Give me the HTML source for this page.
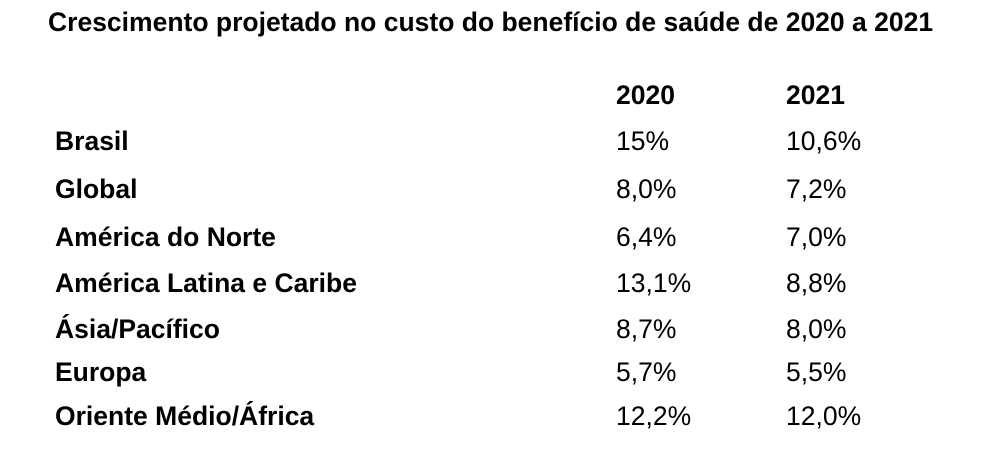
<!DOCTYPE html>
<html><head><meta charset="utf-8"><style>
body{margin:0;width:982px;height:454px;background:#fff;font-family:"Liberation Sans",Arial,sans-serif;color:#000;position:relative;overflow:hidden}
.t{position:absolute;white-space:nowrap;font-size:26.5px;line-height:1}
.b{font-weight:bold}
</style></head><body>
<div class="t b" style="left:48px;top:9px;font-size:26.5px">Crescimento projetado no custo do benefício de saúde de 2020 a 2021</div>
<div class="t b" style="left:616px;top:82px">2020</div>
<div class="t b" style="left:786px;top:82px">2021</div>
<div class="t b" style="left:55px;top:128px">Brasil</div><div class="t" style="left:616px;top:128px">15%</div><div class="t" style="left:786px;top:128px">10,6%</div>
<div class="t b" style="left:55px;top:176px">Global</div><div class="t" style="left:616px;top:176px">8,0%</div><div class="t" style="left:786px;top:176px">7,2%</div>
<div class="t b" style="left:55px;top:224px">América do Norte</div><div class="t" style="left:616px;top:224px">6,4%</div><div class="t" style="left:786px;top:224px">7,0%</div>
<div class="t b" style="left:55px;top:270px">América Latina e Caribe</div><div class="t" style="left:616px;top:270px">13,1%</div><div class="t" style="left:786px;top:270px">8,8%</div>
<div class="t b" style="left:55px;top:316px">Ásia/Pacífico</div><div class="t" style="left:616px;top:316px">8,7%</div><div class="t" style="left:786px;top:316px">8,0%</div>
<div class="t b" style="left:55px;top:359px">Europa</div><div class="t" style="left:616px;top:359px">5,7%</div><div class="t" style="left:786px;top:359px">5,5%</div>
<div class="t b" style="left:55px;top:403px">Oriente Médio/África</div><div class="t" style="left:616px;top:403px">12,2%</div><div class="t" style="left:786px;top:403px">12,0%</div>
</body></html>
